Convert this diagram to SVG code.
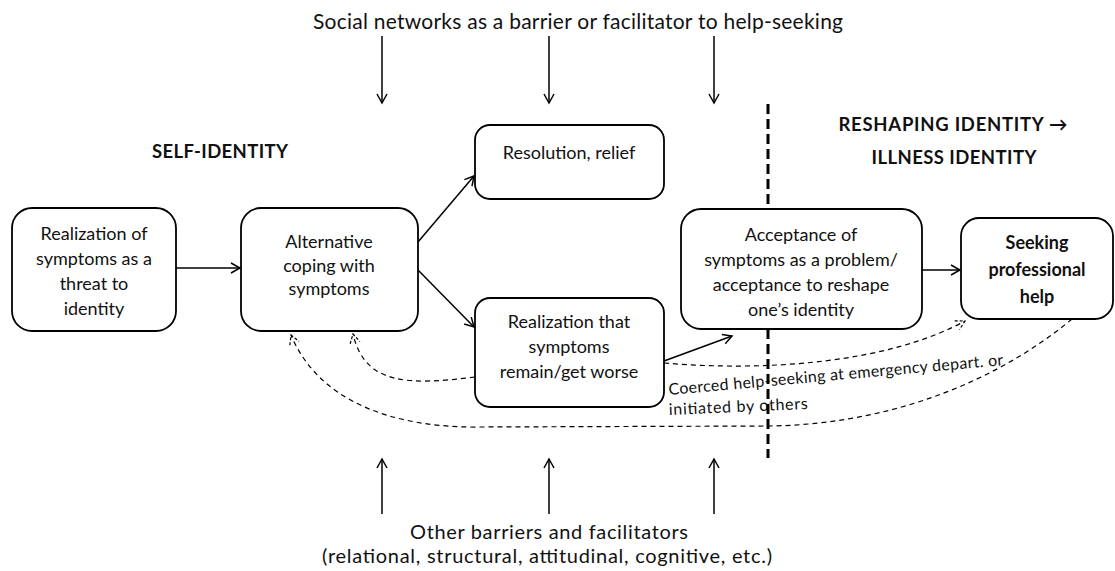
<svg xmlns="http://www.w3.org/2000/svg" width="1115" height="571" viewBox="0 0 1115 571">
<defs>
<marker id="ah" markerWidth="12" markerHeight="12" refX="10" refY="6" orient="auto" markerUnits="userSpaceOnUse">
<path d="M1,1 L10,6 L1,11" fill="none" stroke="#000" stroke-width="1.5"/>
</marker>
<marker id="ahd" markerWidth="12" markerHeight="12" refX="10" refY="6" orient="auto" markerUnits="userSpaceOnUse">
<path d="M1,1 L10,6 L1,11" fill="none" stroke="#000" stroke-width="1.2" stroke-dasharray="3,2"/>
</marker>
</defs>
<style>
.box{fill:#fff;stroke:#000;stroke-width:1.8}
.t{font-family:Lato,"Open Sans","Liberation Sans",sans-serif;font-size:18px;fill:#111;text-anchor:middle}
.b{font-weight:bold}
.h{font-family:Lato,"Open Sans","Liberation Sans",sans-serif;font-size:18.5px;font-weight:bold;fill:#111;text-anchor:middle}
.big{font-family:Lato,"Open Sans","Liberation Sans",sans-serif;font-size:21px;fill:#111;text-anchor:middle}
.bot{font-family:Lato,"Open Sans","Liberation Sans",sans-serif;font-size:20px;fill:#111;text-anchor:middle}
.sm{font-family:Lato,"Open Sans","Liberation Sans",sans-serif;font-size:16px;fill:#111}
.sol{fill:none;stroke:#000;stroke-width:1.5;marker-end:url(#ah)}
.dsh{fill:none;stroke:#000;stroke-width:1.2;stroke-dasharray:5,4;marker-end:url(#ahd)}
</style>
<rect width="1115" height="571" fill="#fff"/>

<text class="big" x="578" y="29" textLength="530">Social networks as a barrier or facilitator to help-seeking</text>
<text class="bot" x="549" y="539" textLength="278">Other barriers and facilitators</text>
<text class="bot" x="547" y="563" textLength="450">(relational, structural, attitudinal, cognitive, etc.)</text>

<text class="h" x="220" y="158" textLength="136">SELF-IDENTITY</text>
<text class="h" x="953" y="131" textLength="229">RESHAPING IDENTITY →</text>
<text class="h" x="954" y="164" textLength="165">ILLNESS IDENTITY</text>

<text class="sm" transform="translate(669,395) rotate(-5.1)" textLength="336">Coerced help-seeking at emergency depart. or</text>
<text class="sm" transform="translate(669,415) rotate(-2.5)" textLength="139">initiated by others</text>

<g id="connectors">
<line x1="768" y1="104" x2="768" y2="458" stroke="#000" stroke-width="3" stroke-dasharray="10,5"/>
<line class="sol" x1="382" y1="36" x2="382" y2="103"/>
<line class="sol" x1="549" y1="36" x2="549" y2="103"/>
<line class="sol" x1="714" y1="36" x2="714" y2="103"/>
<line class="sol" x1="382" y1="514" x2="382" y2="459"/>
<line class="sol" x1="549" y1="514" x2="549" y2="459"/>
<line class="sol" x1="714" y1="514" x2="714" y2="459"/>
<line class="sol" x1="176" y1="268" x2="240" y2="268"/>
<line class="sol" x1="418" y1="242" x2="474" y2="176"/>
<line class="sol" x1="418" y1="270" x2="474" y2="327"/>
<line class="sol" x1="922" y1="270" x2="960" y2="270"/>
<line class="sol" x1="664" y1="361" x2="732" y2="336"/>
<path class="dsh" d="M475,377 C410,385 365,386 353,334"/>
<path class="dsh" d="M1072,319 C1005,375 900,424 770,426 L480,427 C390,428 318,400 291,335"/>
<path class="dsh" d="M664,363 C770,372 890,362 965,321"/>
</g>

<g id="n1">
<rect class="box" x="12" y="208" width="164" height="123" rx="20"/>
<text class="t" x="94" y="240">Realization of</text>
<text class="t" x="94" y="265">symptoms as a</text>
<text class="t" x="94" y="290">threat to</text>
<text class="t" x="94" y="315">identity</text>
</g>
<g id="n2">
<rect class="box" x="241" y="208" width="177" height="123" rx="20"/>
<text class="t" x="329" y="248">Alternative</text>
<text class="t" x="329" y="272">coping with</text>
<text class="t" x="329" y="295">symptoms</text>
</g>
<g id="n3">
<rect class="box" x="475" y="125" width="189" height="74" rx="15"/>
<text class="t" x="569" y="159">Resolution, relief</text>
</g>
<g id="n4">
<rect class="box" x="475" y="298" width="189" height="109" rx="15"/>
<text class="t" x="569" y="328">Realization that</text>
<text class="t" x="569" y="353">symptoms</text>
<text class="t" x="569" y="378">remain/get worse</text>
</g>
<g id="n5">
<rect class="box" x="681" y="209" width="241" height="120" rx="20"/>
<text class="t" x="801" y="241">Acceptance of</text>
<text class="t" x="801" y="266">symptoms as a problem/</text>
<text class="t" x="801" y="291">acceptance to reshape</text>
<text class="t" x="801" y="316">one’s identity</text>
</g>
<g id="n6">
<rect class="box" x="961" y="218" width="152" height="101" rx="18"/>
<text class="t b" x="1037" y="249">Seeking</text>
<text class="t b" x="1037" y="276">professional</text>
<text class="t b" x="1037" y="303">help</text>
</g>
</svg>
